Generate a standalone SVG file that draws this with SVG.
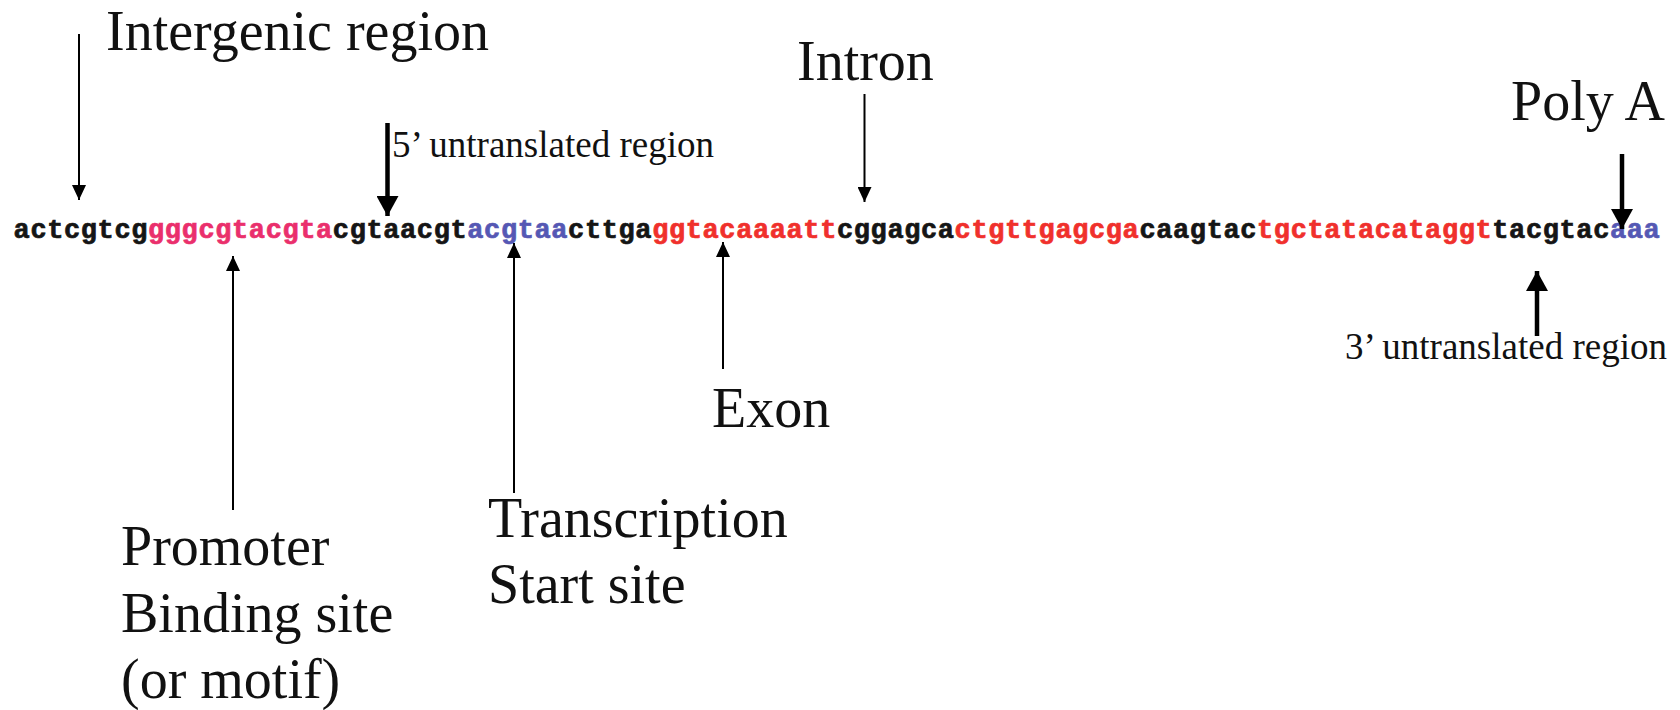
<svg xmlns="http://www.w3.org/2000/svg" width="1680" height="710" viewBox="0 0 1680 710">
  <style>
    .lbl { font-family: "Liberation Serif", "Times New Roman", serif; fill: #111; }
    .big { font-size: 56px; }
    .small { font-size: 37px; }
    .seq { font-family: "Liberation Mono", "Courier New", monospace; font-weight: bold; font-size: 27px; letter-spacing: 0.6px; stroke-width: 0.7px; }
    .k { fill: #151515; stroke: #151515; }
    .pink { fill: #ea2f6c; stroke: #ea2f6c; }
    .red { fill: #f0302c; stroke: #f0302c; }
    .blue { fill: #5558b4; stroke: #5558b4; }
    .thin { stroke: #000; stroke-width: 2; fill: none; marker-end: url(#headThin); }
    .thick { stroke: #000; stroke-width: 4.5; fill: none; marker-end: url(#headThick); }
  </style>
  <defs>
    <marker id="headThin" markerUnits="userSpaceOnUse" markerWidth="15" markerHeight="14" refX="15" refY="7" orient="auto">
      <path d="M0,0 L15,7 L0,14 z" fill="#000"/>
    </marker>
    <marker id="headThick" markerUnits="userSpaceOnUse" markerWidth="20" markerHeight="22" refX="20" refY="11" orient="auto">
      <path d="M0,0 L20,11 L0,22 z" fill="#000"/>
    </marker>
  </defs>
  <rect width="1680" height="710" fill="#fff"/>

  <!-- DNA sequence -->
  <g id="sequence">
    <text class="seq" x="13.6" y="238"><tspan class="k">actcgtcg</tspan><tspan class="pink">gggcgtacgta</tspan><tspan class="k">cgtaacgt</tspan><tspan class="blue">acgtaa</tspan><tspan class="k">cttga</tspan><tspan class="red">ggtacaaaatt</tspan><tspan class="k">cggagca</tspan><tspan class="red">ctgttgagcga</tspan><tspan class="k">caagtac</tspan><tspan class="red">tgctatacataggt</tspan><tspan class="k">tacgtac</tspan><tspan class="blue">aaa</tspan></text>
  </g>

  <!-- Labels -->
  <g id="intergenic">
    <text class="lbl big" x="106" y="50">Intergenic region</text>
  </g>
  <g id="utr5">
    <text class="lbl small" x="392" y="157">5’ untranslated region</text>
  </g>
  <g id="intron">
    <text class="lbl big" x="797" y="80">Intron</text>
  </g>
  <g id="polya">
    <text class="lbl big" x="1511" y="120" font-size="53">Poly A</text>
  </g>
  <g id="utr3">
    <text class="lbl small" x="1345" y="359">3’ untranslated region</text>
  </g>
  <g id="promoter">
    <text class="lbl big" x="121" y="565">Promoter</text>
    <text class="lbl big" x="121" y="632">Binding site</text>
    <text class="lbl big" x="121" y="698">(or motif)</text>
  </g>
  <g id="tss">
    <text class="lbl big" x="488" y="537">Transcription</text>
    <text class="lbl big" x="488" y="603">Start site</text>
  </g>
  <g id="exon">
    <text class="lbl big" x="712" y="427">Exon</text>
  </g>

  <!-- Pointer arrows -->
  <g id="connectors">
    <line class="thin" x1="79" y1="34" x2="79" y2="200"/>
    <line class="thick" x1="387.5" y1="123" x2="387.5" y2="216"/>
    <line class="thin" x1="864.5" y1="94" x2="864.5" y2="202"/>
    <line class="thick" x1="1622" y1="154" x2="1622" y2="229"/>
    <line class="thick" x1="1537" y1="336" x2="1537" y2="271"/>
    <line class="thin" x1="233" y1="510" x2="233" y2="256"/>
    <line class="thin" x1="514" y1="493" x2="514" y2="243"/>
    <line class="thin" x1="723" y1="369" x2="723" y2="242"/>
  </g>
</svg>
